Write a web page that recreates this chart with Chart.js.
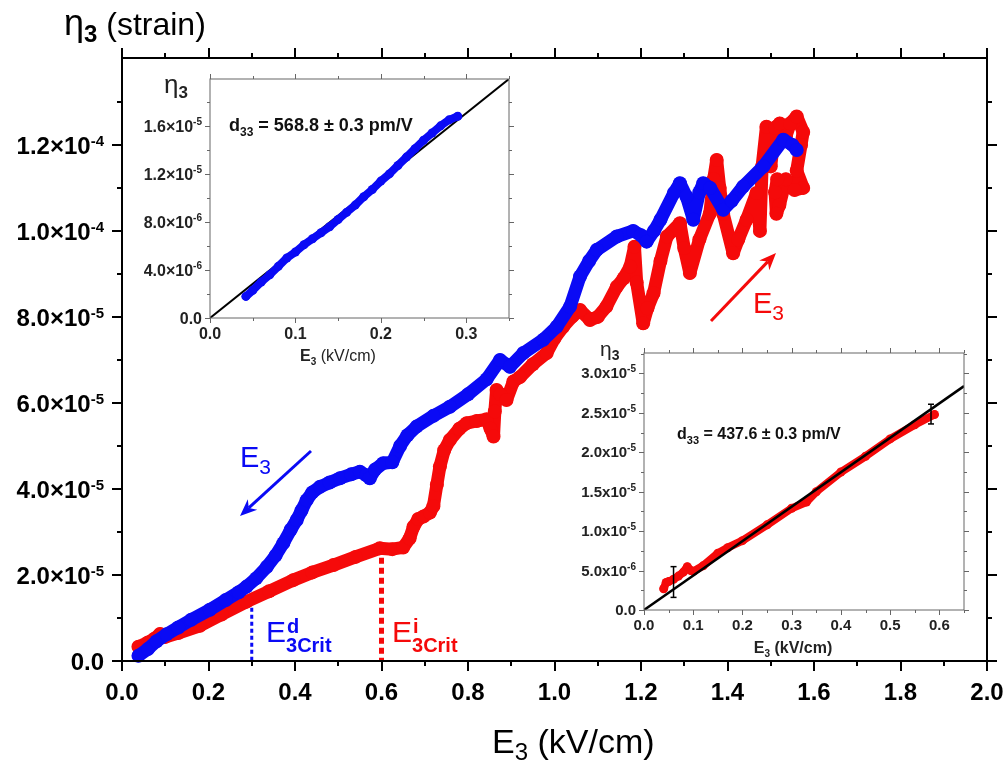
<!DOCTYPE html>
<html><head><meta charset="utf-8">
<script src="https://cdn.jsdelivr.net/npm/chart.js@4.4.0/dist/chart.umd.min.js"></script>
<style>
html,body{margin:0;padding:0;background:#fff;}
#wrap{position:relative;width:1006px;height:766px;background:#fff;}
canvas{position:absolute;left:0;top:0;}
</style></head><body>
<div id="wrap">
<canvas id="main" width="1006" height="766"></canvas>
<canvas id="in1" width="1006" height="766"></canvas>
<canvas id="in2" width="1006" height="766"></canvas>
</div>
<script>
// ---------- Main chart data ----------
const redE = [0.038,0.06,0.075,0.088,0.10,0.13,0.18,0.23,0.288,0.34,0.396,0.44,0.489,0.54,0.596,0.625,0.650,0.665,0.674,0.685,0.697,0.712,0.720,0.728,0.735,0.745,0.758,0.78,0.797,0.82,0.843,0.852,0.859,0.862,0.866,0.875,0.889,0.905,0.92,0.95,0.982,1.0,1.020,1.04,1.059,1.082,1.10,1.120,1.144,1.16,1.175,1.185,1.19,1.205,1.215,1.229,1.245,1.260,1.290,1.30,1.313,1.335,1.359,1.368,1.375,1.382,1.390,1.413,1.425,1.444,1.467,1.475,1.48,1.490,1.50,1.51,1.521,1.535,1.545,1.560,1.575,1.57,1.56,1.575,1.555,1.535,1.52,1.513,1.51,1.515];
const redEta = [3.3e-6,4.3e-6,5.2e-6,6.3e-6,5.6e-6,6.5e-6,8.2e-6,1.08e-5,1.38e-5,1.62e-5,1.88e-5,2.06e-5,2.23e-5,2.42e-5,2.62e-5,2.6e-5,2.64e-5,2.85e-5,3.12e-5,3.3e-5,3.36e-5,3.45e-5,3.6e-5,4.1e-5,4.52e-5,4.9e-5,5.14e-5,5.4e-5,5.53e-5,5.58e-5,5.62e-5,5.4e-5,5.22e-5,5.8e-5,6.3e-5,6.2e-5,6.07e-5,6.5e-5,6.6e-5,6.9e-5,7.16e-5,7.5e-5,7.77e-5,8.0e-5,8.16e-5,7.93e-5,8.0e-5,8.24e-5,8.7e-5,8.9e-5,9.17e-5,9.63e-5,8.8e-5,7.85e-5,8.2e-5,8.55e-5,9.3e-5,9.87e-5,1.018e-4,9.6e-5,9.02e-5,9.8e-5,1.04e-4,1.12e-4,1.165e-4,1.1e-4,1.04e-4,9.48e-5,9.8e-5,1.026e-4,1.088e-4,1.0e-4,1.15e-4,1.242e-4,1.15e-4,1.24e-4,1.25e-4,1.22e-4,1.25e-4,1.266e-4,1.23e-4,1.2e-4,1.14e-4,1.10e-4,1.095e-4,1.12e-4,1.06e-4,1.04e-4,1.09e-4,1.12e-4];
const blueE = [0.038,0.06,0.08,0.103,0.13,0.16,0.203,0.24,0.27,0.288,0.31,0.335,0.355,0.373,0.39,0.404,0.415,0.427,0.44,0.458,0.48,0.504,0.53,0.55,0.565,0.573,0.585,0.604,0.625,0.643,0.66,0.681,0.72,0.758,0.80,0.843,0.874,0.897,0.928,0.974,1.005,1.036,1.059,1.08,1.098,1.144,1.182,1.20,1.213,1.23,1.245,1.276,1.29,1.305,1.321,1.335,1.344,1.36,1.39,1.41,1.436,1.483,1.529,1.55,1.560];
const blueEta = [1.2e-6,2.8e-6,4.6e-6,6.2e-6,7.8e-6,9.6e-6,1.19e-5,1.42e-5,1.6e-5,1.73e-5,1.92e-5,2.19e-5,2.45e-5,2.74e-5,3.05e-5,3.28e-5,3.5e-5,3.74e-5,3.92e-5,4.05e-5,4.15e-5,4.25e-5,4.34e-5,4.40e-5,4.32e-5,4.25e-5,4.45e-5,4.6e-5,4.62e-5,5.0e-5,5.25e-5,5.45e-5,5.7e-5,5.91e-5,6.2e-5,6.55e-5,7.0e-5,6.84e-5,7.16e-5,7.47e-5,7.77e-5,8.24e-5,8.94e-5,9.3e-5,9.56e-5,9.87e-5,1.0e-4,9.9e-5,9.75e-5,1.0e-4,1.026e-4,1.088e-4,1.111e-4,1.08e-4,1.026e-4,1.09e-4,1.111e-4,1.10e-4,1.049e-4,1.07e-4,1.103e-4,1.15e-4,1.212e-4,1.2e-4,1.188e-4];
const mainXTicks = [0,0.2,0.4,0.6,0.8,1.0,1.2,1.4,1.6,1.8,2.0];
const mainXLabels = ['0.0','0.2','0.4','0.6','0.8','1.0','1.2','1.4','1.6','1.8','2.0'];
const mainXMinor = [0.1,0.3,0.5,0.7,0.9,1.1,1.3,1.5,1.7,1.9];
const mainYTicks = [0,2e-5,4e-5,6e-5,8e-5,1e-4,1.2e-4];
const mainYLabels = ['0.0','2.0×10^-5','4.0×10^-5','6.0×10^-5','8.0×10^-5','1.0×10^-4','1.2×10^-4'];
const mainYMinor = [1e-5,3e-5,5e-5,7e-5,9e-5,1.1e-4,1.3e-4];
const critD = 0.3, critI = 0.6;

// ---------- Inset 1 (decreasing, blue) ----------
const in1E = [0.042,0.05,0.06,0.07,0.08,0.09,0.10,0.11,0.12,0.13,0.14,0.15,0.16,0.17,0.18,0.19,0.20,0.21,0.22,0.23,0.24,0.25,0.26,0.27,0.28,0.29];
const in1Eta = [1.8e-6,2.3e-6,3.0e-6,3.6e-6,4.3e-6,5.0e-6,5.5e-6,6.1e-6,6.6e-6,7.1e-6,7.6e-6,8.2e-6,8.8e-6,9.4e-6,1.01e-5,1.07e-5,1.14e-5,1.2e-5,1.27e-5,1.34e-5,1.41e-5,1.48e-5,1.54e-5,1.6e-5,1.65e-5,1.68e-5];
const fit1E = [0,0.35];
const fit1Eta = [0,1.99e-5];
const in1XTicks = [0,0.1,0.2,0.3];
const in1XLabels = ['0.0','0.1','0.2','0.3'];
const in1XMinor = [0.05,0.15,0.25,0.35];
const in1YTicks = [0,4e-6,8e-6,1.2e-5,1.6e-5];
const in1YLabels = ['0.0','4.0×10^-6','8.0×10^-6','1.2×10^-5','1.6×10^-5'];
const in1YMinor = [2e-6,6e-6,1e-5,1.4e-5,1.8e-5];

// ---------- Inset 2 (increasing, red) ----------
const in2E = [0.04,0.045,0.05,0.06,0.07,0.08,0.088,0.095,0.10,0.12,0.15,0.17,0.20,0.25,0.30,0.33,0.35,0.40,0.45,0.50,0.55,0.59];
const in2Eta = [2.7e-6,3.5e-6,3.6e-6,3.9e-6,4.3e-6,4.8e-6,5.5e-6,5.0e-6,4.9e-6,5.6e-6,7.2e-6,7.9e-6,8.8e-6,1.08e-5,1.29e-5,1.37e-5,1.5e-5,1.75e-5,1.95e-5,2.17e-5,2.35e-5,2.48e-5];
const fit2E = [0,0.65];
const fit2Eta = [0,2.84e-5];
const errE = [0.06,0.583];
const errLo = [1.6e-6,2.36e-5];
const errHi = [5.5e-6,2.61e-5];
const in2XTicks = [0,0.1,0.2,0.3,0.4,0.5,0.6];
const in2XLabels = ['0.0','0.1','0.2','0.3','0.4','0.5','0.6'];
const in2XMinor = [0.05,0.15,0.25,0.35,0.45,0.55,0.65];
const in2YTicks = [0,5e-6,1e-5,1.5e-5,2e-5,2.5e-5,3e-5];
const in2YLabels = ['0.0','5.0x10^-6','1.0x10^-5','1.5x10^-5','2.0x10^-5','2.5x10^-5','3.0x10^-5'];
const in2YMinor = [2.5e-6,7.5e-6,1.25e-5,1.75e-5,2.25e-5,2.75e-5,3.25e-5];

const RED = '#f50a0a', BLUE = '#0a0af5';
const FF = '"Liberation Sans", Arial, sans-serif';

function zip(a,b){ return a.map((v,i)=>({x:v,y:b[i]})); }

function rich(ctx, parts, x, y, align){
  let w = 0;
  parts.forEach(p=>{ ctx.font = p[1]; p.w = ctx.measureText(p[0]).width; w += p.w; });
  let cx = align==='right' ? x-w : (align==='center' ? x-w/2 : x);
  ctx.textAlign='left'; ctx.textBaseline='alphabetic';
  parts.forEach(p=>{ ctx.font=p[1]; if(p[3]) ctx.fillStyle=p[3]; ctx.fillText(p[0], cx, y+(p[2]||0)); cx += p.w; });
  return w;
}

function line(ctx,x1,y1,x2,y2){ ctx.beginPath(); ctx.moveTo(x1,y1); ctx.lineTo(x2,y2); ctx.stroke(); }

function drawFrame(chart, o){
  const ctx = chart.ctx, a = chart.chartArea, xs = chart.scales.x, ys = chart.scales.y;
  ctx.save();
  ctx.strokeStyle = o.color; ctx.lineWidth = o.lw; ctx.lineCap='butt';
  ctx.strokeRect(a.left, a.top, a.right-a.left, a.bottom-a.top);
  const tx = (v,len)=>{ const p = Math.round(xs.getPixelForValue(v))+ (o.lw%2?0.5:0);
    line(ctx,p,a.bottom,p,a.bottom+len); line(ctx,p,a.top,p,a.top-len); };
  const ty = (v,len)=>{ const p = Math.round(ys.getPixelForValue(v))+ (o.lw%2?0.5:0);
    line(ctx,a.left,p,a.left-len,p); line(ctx,a.right,p,a.right+len,p); };
  o.xT.forEach(v=>tx(v,o.maj)); o.xM.forEach(v=>tx(v,o.min));
  o.yT.forEach(v=>ty(v,o.maj)); o.yM.forEach(v=>ty(v,o.min));
  ctx.fillStyle = o.textColor;
  o.xT.forEach((v,i)=>{ ctx.font=o.font; ctx.textAlign='center'; ctx.textBaseline='alphabetic';
    ctx.fillText(o.xL[i], xs.getPixelForValue(v), a.bottom + o.xOff); });
  o.yT.forEach((v,i)=>{ const s=o.yL[i].split('^'); const p = ys.getPixelForValue(v);
    const parts=[[s[0],o.font,0]]; if(s[1]) parts.push([s[1],o.supFont,o.supDy]);
    rich(ctx, parts, a.left - o.yOff, p + o.baseDy, 'right'); });
  ctx.restore();
}

function arrow(ctx, x1,y1,x2,y2,color,lw,hl,hw){
  const ang = Math.atan2(y2-y1,x2-x1);
  ctx.save(); ctx.strokeStyle=color; ctx.fillStyle=color; ctx.lineWidth=lw;
  const bx = x2 - hl*Math.cos(ang), by = y2 - hl*Math.sin(ang);
  line(ctx,x1,y1,bx+ (hl*0.3)*Math.cos(ang),by+(hl*0.3)*Math.sin(ang));
  ctx.beginPath(); ctx.moveTo(x2,y2);
  ctx.lineTo(bx + hw*Math.sin(ang), by - hw*Math.cos(ang));
  ctx.lineTo(x2 - hl*0.7*Math.cos(ang), y2 - hl*0.7*Math.sin(ang));
  ctx.lineTo(bx - hw*Math.sin(ang), by + hw*Math.cos(ang));
  ctx.closePath(); ctx.fill(); ctx.restore();
}

function makeChart(id, pad, xr, yr, datasets, plugin){
  return new Chart(document.getElementById(id), {
    type:'scatter', data:{datasets},
    options:{ responsive:false, animation:false, devicePixelRatio:1, events:[],
      layout:{padding:pad},
      plugins:{legend:{display:false}, tooltip:{enabled:false}},
      scales:{ x:{type:'linear',min:xr[0],max:xr[1],display:false},
               y:{type:'linear',min:yr[0],max:yr[1],display:false} } },
    plugins:[plugin]
  });
}

function band(E, Eta, color, w, r){
  return { data: zip(E,Eta), showLine:true, borderColor:color, backgroundColor:color,
    borderWidth:w, pointRadius:r, pointBorderWidth:0, pointBackgroundColor:color,
    borderJoinStyle:'round', borderCapStyle:'round', tension:0, clip:false };
}

// ---------- main ----------
makeChart('main', {left:122,right:19,top:58,bottom:105}, [0,2.0], [0,1.402e-4],
  [band(blueE,blueEta,BLUE,13,7), band(redE,redEta,RED,13,7)],
  { id:'mainDeco',
    beforeDatasetsDraw(chart){
      const ctx=chart.ctx, xs=chart.scales.x, ys=chart.scales.y, a=chart.chartArea;
      ctx.save();
      ctx.strokeStyle=BLUE; ctx.lineWidth=3; ctx.setLineDash([4,3]);
      const xd=xs.getPixelForValue(critD); line(ctx,xd,ys.getPixelForValue(1.4e-5),xd,a.bottom);
      ctx.strokeStyle=RED; ctx.lineWidth=5; ctx.setLineDash([6,4]);
      const xi=xs.getPixelForValue(critI); line(ctx,xi,ys.getPixelForValue(2.4e-5),xi,a.bottom);
      ctx.restore();
    },
    afterDraw(chart){
      const ctx=chart.ctx;
      drawFrame(chart,{color:'#000',lw:2,maj:10,min:5,xT:mainXTicks,xM:mainXMinor,
        yT:mainYTicks,yM:mainYMinor,xL:mainXLabels,yL:mainYLabels,textColor:'#000',
        font:'bold 24px '+FF, supFont:'bold 15px '+FF, supDy:-8, xOff:39, yOff:18, baseDy:9});
      ctx.save(); ctx.fillStyle='#000';
      rich(ctx,[['η','36px '+FF,0],['3','bold 24px '+FF,7],[' (strain)','32px '+FF,0]],64,35,'left');
      rich(ctx,[['E','34px '+FF,0],['3','24px '+FF,7],[' (kV/cm)','34px '+FF,0]],492,753,'left');
      arrow(ctx,311,451,240,516,BLUE,3,17,7);
      arrow(ctx,711,321,776,253,RED,3,17,7);
      ctx.fillStyle=BLUE; rich(ctx,[['E','29px '+FF,0],['3','21px '+FF,7]],240,467,'left');
      ctx.fillStyle=RED; rich(ctx,[['E','29px '+FF,0],['3','21px '+FF,7]],753,313,'left');
      const crit=(x,sup,col)=>{ ctx.fillStyle=col; ctx.font='30px '+FF; ctx.textAlign='left';
        ctx.fillText('E',x,642); const w=ctx.measureText('E').width;
        ctx.font='bold 20px '+FF; ctx.fillText(sup,x+w+1,633); ctx.fillText('3Crit',x+w,652); };
      crit(266,'d',BLUE); crit(392,'i',RED);
      ctx.restore();
    }
  });

// ---------- inset 1 ----------
makeChart('in1', {left:210,right:497,top:79,bottom:448}, [0,0.35], [0,1.99e-5],
  [band(in1E,in1Eta,BLUE,8,4.5), {data:zip(fit1E,fit1Eta),showLine:true,borderColor:'#000',borderWidth:2,pointRadius:0,tension:0}],
  { id:'in1Deco',
    afterDraw(chart){
      const ctx=chart.ctx;
      drawFrame(chart,{color:'#666',lw:1,maj:5,min:3,xT:in1XTicks,xM:in1XMinor,yT:in1YTicks,yM:in1YMinor,
        xL:in1XLabels,yL:in1YLabels,textColor:'#222',font:'bold 16px '+FF,supFont:'bold 10px '+FF,supDy:-7,
        xOff:21,yOff:8,baseDy:6});
      ctx.save(); ctx.fillStyle='#222';
      rich(ctx,[['η','26px '+FF,0],['3','bold 17px '+FF,5]],164,93,'left');
      rich(ctx,[['E','bold 16px '+FF,0],['3','bold 10px '+FF,4],[' (kV/cm)','16px '+FF,0]],338,361,'center');
      ctx.fillStyle='#111';
      rich(ctx,[['d','bold 18px '+FF,0],['33','bold 12px '+FF,5],[' = 568.8 ± 0.3 pm/V','bold 18px '+FF,0]],229,131,'left');
      ctx.restore();
    }
  });

// ---------- inset 2 ----------
makeChart('in2', {left:644,right:42,top:353,bottom:156}, [0,0.65], [0,3.26e-5],
  [{data:zip(fit2E,fit2Eta),showLine:true,borderColor:'#000',borderWidth:2.5,pointRadius:0,tension:0}, band(in2E,in2Eta,RED,8,4.5)],
  { id:'in2Deco',
    afterDraw(chart){
      const ctx=chart.ctx, xs=chart.scales.x, ys=chart.scales.y;
      ctx.save(); ctx.strokeStyle='#000'; ctx.lineWidth=1.5;
      errE.forEach((e,i)=>{ const x=xs.getPixelForValue(e), y1=ys.getPixelForValue(errLo[i]), y2=ys.getPixelForValue(errHi[i]);
        line(ctx,x,y1,x,y2); line(ctx,x-3,y1,x+3,y1); line(ctx,x-3,y2,x+3,y2); });
      ctx.restore();
      drawFrame(chart,{color:'#666',lw:1,maj:5,min:3,xT:in2XTicks,xM:in2XMinor,yT:in2YTicks,yM:in2YMinor,
        xL:in2XLabels,yL:in2YLabels,textColor:'#222',font:'bold 15px '+FF,supFont:'bold 10px '+FF,supDy:-6,
        xOff:20,yOff:8,baseDy:5});
      ctx.save(); ctx.fillStyle='#222';
      rich(ctx,[['η','21px '+FF,0],['3','bold 14px '+FF,4]],600,356,'left');
      rich(ctx,[['E','bold 16px '+FF,0],['3','bold 10px '+FF,4],[' (kV/cm)','bold 16px '+FF,0]],793,653,'center');
      ctx.fillStyle='#111';
      rich(ctx,[['d','bold 16px '+FF,0],['33','bold 11px '+FF,5],[' = 437.6 ± 0.3 pm/V','bold 16px '+FF,0]],677,439,'left');
      ctx.restore();
    }
  });
</script>
</body></html>
